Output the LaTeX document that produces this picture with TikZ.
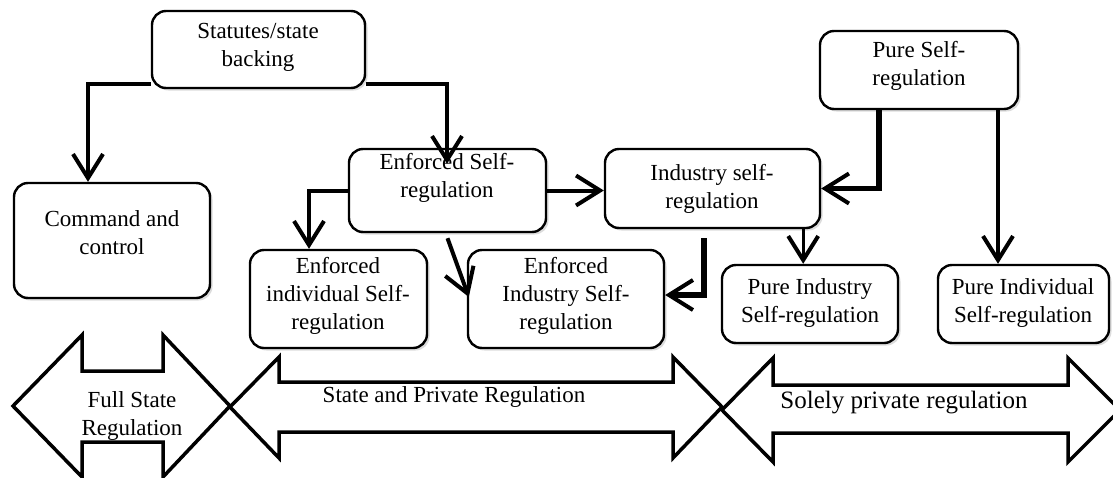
\documentclass[tikz,border=0pt]{standalone}
\usepackage{fontspec}
\setmainfont{Liberation Serif}
\usetikzlibrary{arrows.meta,shadows}

\begin{document}
\begin{tikzpicture}[x=1pt,y=-1pt,
  box/.style={draw=black, line width=2.4pt, rounded corners=14pt, fill=white,
    drop shadow={opacity=0.28, shadow xshift=2.5pt, shadow yshift=-2.5pt},
    inner sep=0pt},
  txt/.style={align=center, font=\fontsize{23}{28}\selectfont, inner sep=0pt},
  link/.style={line width=4pt, line cap=butt,
    -{Straight Barb[length=24pt,width=30pt,line width=4pt]}},
  thinlink/.style={link, line width=3.2pt},
  heavylink/.style={link, line width=5.5pt},
  band/.style={draw=black, line width=3.5pt, line join=miter}
]
\useasboundingbox (0,0) rectangle (1113,477);

% ---- boxes ----
\node[box, minimum width=213pt, minimum height=77pt] (stat) at (258.5,49.5) {};
\node[box, minimum width=196pt, minimum height=115pt] (cmd) at (112,240.5) {};
\node[box, minimum width=197pt, minimum height=83pt] (ens) at (447.5,190.5) {};
\node[box, minimum width=215pt, minimum height=79pt] (ind) at (712.5,188.5) {};
\node[box, minimum width=198pt, minimum height=78pt] (pure) at (919,70) {};
\node[box, minimum width=177pt, minimum height=98pt] (eis) at (338.5,299) {};
\node[box, minimum width=196pt, minimum height=98pt] (eins) at (566,299) {};
\node[box, minimum width=176pt, minimum height=78pt] (pis) at (810,304) {};
\node[box, minimum width=171pt, minimum height=78pt] (pids) at (1023.5,304) {};

% ---- box texts ----
\node[txt] (stat-t) at (258,47) {Statutes/state\\backing};
\node[txt] (cmd-t) at (112,233) {Command and\\control};
\node[txt] (ens-t) at (447,178) {Enforced Self-\\regulation};
\node[txt] (ind-t) at (712,189) {Industry self-\\regulation};
\node[txt] (pure-t) at (919,66) {Pure Self-\\regulation};
\node[txt] (eis-t) at (338,296) {Enforced\\individual Self-\\regulation};
\node[txt] (eins-t) at (566,296) {Enforced\\Industry Self-\\regulation};
\node[txt] (pis-t) at (810,303) {Pure Industry\\Self-regulation};
\node[txt] (pids-t) at (1023,303) {Pure Individual\\Self-regulation};

% ---- connectors ----
\draw[link] ([yshift=5pt]stat.south west) -| ([xshift=-24pt]cmd.north);
\draw[link] ([yshift=5pt]stat.south east) -| ([xshift=-0.5pt,yshift=-16pt]ens.north);
\draw[link] (ens.west) -| ([xshift=-29.5pt]eis.north);
\draw[link] ([yshift=-5pt]ens.south) -- ([xshift=2pt,yshift=2pt]eins.west);
\draw[link] (ens.east) -- (ens.east -| ind.west);
\draw[heavylink] ([xshift=-40pt]pure.south) |- (ind.east);
\draw[thinlink] ([xshift=79pt]pure.south) -- ([xshift=79pt]pure.south |- pids.north);
\draw[thinlink] ([xshift=-18pt]ind.south east) -- ([xshift=-18pt]ind.south east |- pis.north);
\draw[heavylink] ([xshift=-8.5pt,yshift=-9pt]ind.south) |- ([yshift=4pt]eins.east);

% ---- regulation bands ----
\draw[band] (13,406) -- (82,335) -- (82,371) -- (163,371) -- (163,335) -- (230,406)
  -- (163,477) -- (163,442) -- (82,442) -- (82,477) -- cycle;
\draw[band] (230,407) -- (279,357) -- (279,382) -- (673,382) -- (673,357) -- (722,407)
  -- (673,458) -- (673,432) -- (279,432) -- (279,458) -- cycle;
\draw[band] (722,410) -- (773,358) -- (773,385) -- (1068,385) -- (1068,358) -- (1120,410)
  -- (1068,462) -- (1068,433) -- (773,433) -- (773,462) -- cycle;

\node[txt] (full-t) at (132,416) {Full State\\Regulation};
\node[txt] (mixed-t) at (454,397) {State and Private Regulation};
\node[txt, font=\fontsize{25}{30}\selectfont] (private-t) at (904,403) {Solely private regulation};
\end{tikzpicture}
\end{document}
